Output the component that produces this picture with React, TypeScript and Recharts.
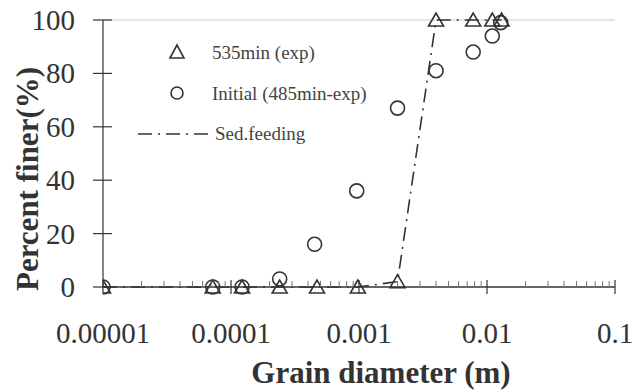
import React from 'react';
import { ComposedChart, Scatter, Line, XAxis, YAxis, ReferenceLine } from 'recharts';

const sizes535 = [0.00001, 0.000072, 0.000122, 0.00024, 0.00047, 0.00098, 0.002, 0.004, 0.0078, 0.011, 0.013];
const pct535 = [0, 0, 0, 0, 0, 0, 2, 100, 100, 100, 100];
const sizesInit = [0.00001, 0.000072, 0.000122, 0.00024, 0.00045, 0.00096, 0.002, 0.004, 0.0078, 0.011, 0.0128];
const pctInit = [0, 0, 0, 3, 16, 36, 67, 81, 88, 94, 99];
const sizesFeed = [0.00001, 0.000072, 0.000122, 0.00024, 0.00047, 0.00098, 0.002, 0.004, 0.0078, 0.011, 0.013];
const pctFeed = [0, 0, 0, 0, 0, 0, 2, 100, 100, 100, 100];

const decades = [0.00001, 0.0001, 0.001, 0.01, 0.1];
const decadeLabels = ['0.00001', '0.0001', '0.001', '0.01', '0.1'];
const yTicks = [0, 20, 40, 60, 80, 100];
const seriesNames = ['535min (exp)', 'Initial (485min-exp)', 'Sed.feeding'];

const xTicks: number[] = [];
decades.slice(0, 4).forEach((d) => {
  for (let m = 1; m <= 9; m++) xTicks.push(Number((d * m).toPrecision(3)));
});
xTicks.push(0.1);

const d535 = sizes535.map((x, i) => ({ x, y: pct535[i] }));
const dInit = sizesInit.map((x, i) => ({ x, y: pctInit[i] }));
const dFeed = sizesFeed.map((x, i) => ({ x, y: pctFeed[i] }));

const FONT = '"Liberation Serif", "Times New Roman", serif';
const INK = '#333';
const MARGIN = { top: 20, right: 17, bottom: 54, left: 43 };
const Y_AXIS_W = 60;

const Tri = (props: any) => {
  const { cx, cy } = props;
  if (cx == null || cy == null) return null;
  return <polygon points={`${cx},${cy - 7} ${cx - 7.5},${cy + 6} ${cx + 7.5},${cy + 6}`} fill="none" stroke={INK} strokeWidth={1.6} />;
};
const Circ = (props: any) => {
  const { cx, cy } = props;
  if (cx == null || cy == null) return null;
  return <circle cx={cx} cy={cy} r={7} fill="none" stroke={INK} strokeWidth={1.6} />;
};

const renderYTick = (props: any) => {
  const { x, y, payload } = props;
  return (
    <g key={`yt-${payload.value}`}>
      <line x1={x - 10} x2={x + 9} y1={y} y2={y} stroke={INK} strokeWidth={1.2} />
      <text x={x - 28} y={y} dy={10} textAnchor="end" fontFamily={FONT} fontSize={29} fill={INK}>{payload.value}</text>
    </g>
  );
};

const renderXTick = (props: any) => {
  const { x, y, payload } = props;
  const idx = decades.findIndex((d) => Math.abs(d - payload.value) / d < 1e-6);
  if (idx >= 0) {
    return (
      <g key={`xt-${payload.value}`}>
        <line x1={x} x2={x} y1={y - 7} y2={y + 7} stroke={INK} strokeWidth={1.2} />
        <text x={x} y={y + 56} textAnchor="middle" fontFamily={FONT} fontSize={29} fill={INK}>{decadeLabels[idx]}</text>
      </g>
    );
  }
  return <line key={`xt-${payload.value}`} x1={x} x2={x} y1={y - 6} y2={y} stroke="#777" strokeWidth={1} />;
};

const LegendBox = () => (
  <svg width={280} height={125} style={{ position: 'absolute', left: 130, top: 30 }}>
    <polygon points="47,15 40,28 54,28" fill="none" stroke={INK} strokeWidth={1.6} />
    <text x={82} y={29} fontFamily={FONT} fontSize={19} fill="#444">{seriesNames[0]}</text>
    <circle cx={47} cy={63} r={6} fill="none" stroke={INK} strokeWidth={1.6} />
    <text x={82} y={70} fontFamily={FONT} fontSize={19} fill="#444">{seriesNames[1]}</text>
    <line x1={8} x2={78} y1={104} y2={104} stroke={INK} strokeWidth={1.6} strokeDasharray="14 6 2 6" />
    <text x={85} y={110} fontFamily={FONT} fontSize={19} fill="#444">{seriesNames[2]}</text>
  </svg>
);

export default function App() {
  return (
    <div style={{ position: 'absolute', left: 0, top: 0, width: 632, height: 391, background: '#fff' }}>
      <ComposedChart width={632} height={391} margin={MARGIN}>
        <XAxis
          dataKey="x"
          type="number"
          scale="log"
          domain={[0.00001, 0.1]}
          ticks={xTicks}
          interval={0}
          allowDataOverflow
          height={50}
          tickSize={0}
          tickMargin={0}
          tickLine={false}
          axisLine={{ stroke: INK, strokeWidth: 1.4 }}
          tick={renderXTick}
          label={{
            content: () => (
              <text x={381} y={383} textAnchor="middle" fontFamily={FONT} fontSize={31} fontWeight="bold" fill={INK}>Grain diameter (m)</text>
            ),
          }}
        />
        <YAxis
          type="number"
          domain={[0, 100]}
          ticks={yTicks}
          interval={0}
          width={Y_AXIS_W}
          tickSize={0}
          tickMargin={0}
          tickLine={false}
          axisLine={{ stroke: INK, strokeWidth: 1.2 }}
          tick={renderYTick}
          label={{
            content: () => (
              <text x={38} y={179} transform="rotate(-90 38 179)" textAnchor="middle" fontFamily={FONT} fontSize={31} fontWeight="bold" fill={INK}>Percent finer(%)</text>
            ),
          }}
        />
        <ReferenceLine y={100} stroke="#ccc" strokeWidth={1.2} segment={[{ x: 0.00001, y: 100 }, { x: 0.095, y: 100 }]} />
        <Line data={dFeed} dataKey="y" stroke={INK} strokeWidth={1.6} strokeDasharray="14 6 2 6" dot={false} isAnimationActive={false} legendType="none" />
        <Scatter data={dInit} dataKey="y" shape={<Circ />} isAnimationActive={false} />
        <Scatter data={d535} dataKey="y" shape={<Tri />} isAnimationActive={false} />
      </ComposedChart>
      <LegendBox />
    </div>
  );
}
